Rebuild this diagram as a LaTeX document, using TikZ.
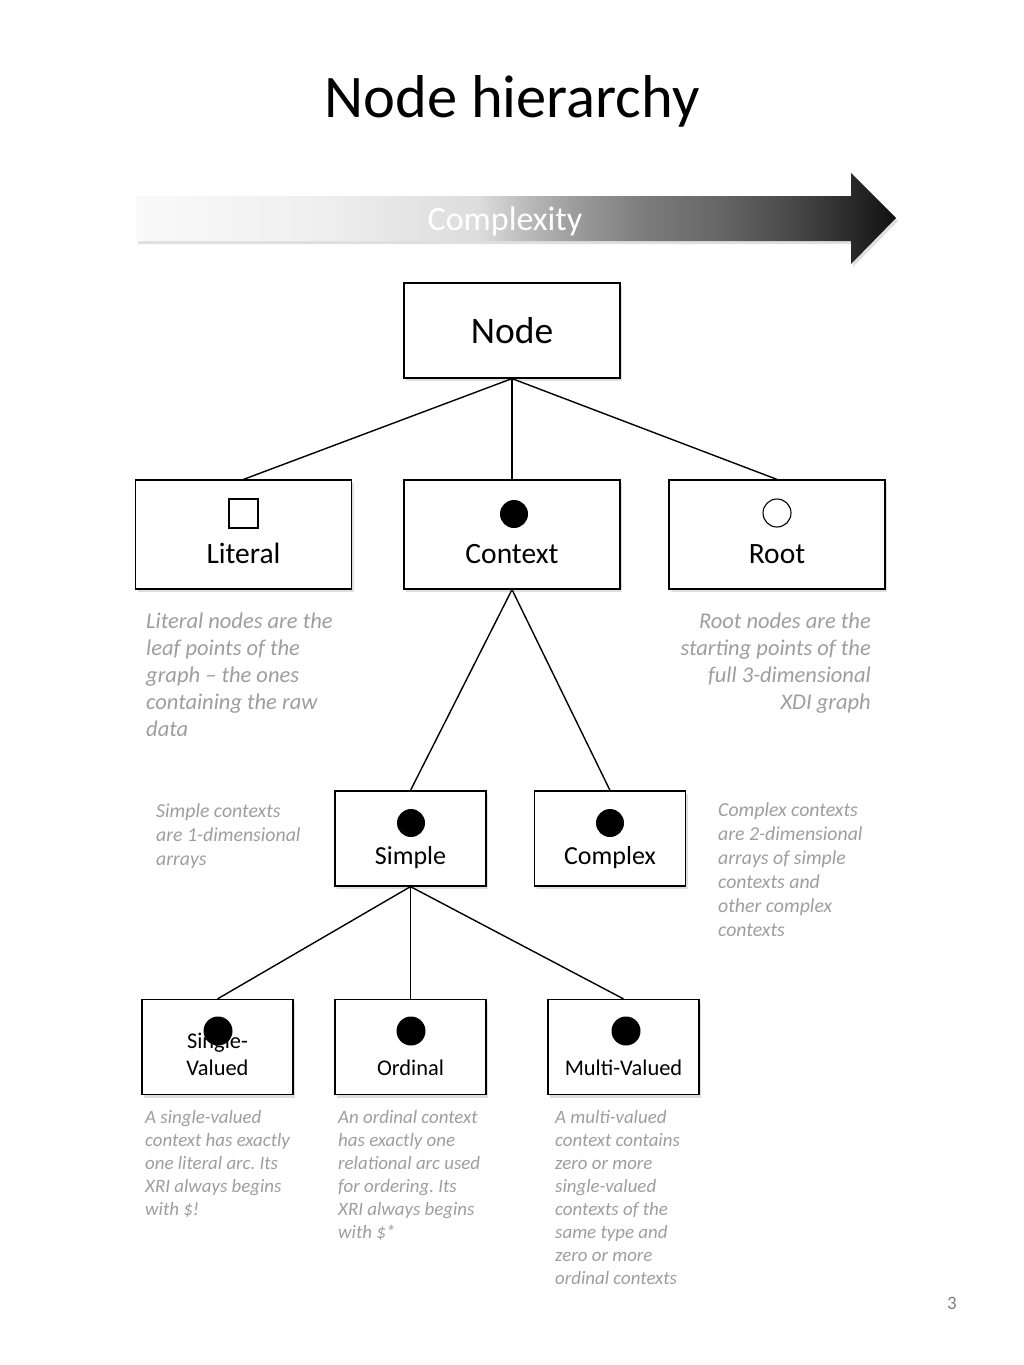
\documentclass[tikz,border=0pt]{standalone}
\usepackage{fontspec}
\setmainfont{Carlito}
\usetikzlibrary{shadows}
\frenchspacing
\definecolor{notegray}{RGB}{158,158,158}
\definecolor{pagegray}{RGB}{128,128,128}
\definecolor{sA}{HTML}{FAFAFA}
\definecolor{sB}{HTML}{EEEEEE}
\definecolor{sC}{HTML}{DCDCDC}
\definecolor{sD}{HTML}{B8B8B8}
\definecolor{sE}{HTML}{999999}
\definecolor{sF}{HTML}{7A7A7A}
\definecolor{sG}{HTML}{666666}
\definecolor{sH}{HTML}{4A4A4A}
\definecolor{sI}{HTML}{2A2A2A}
\definecolor{sJ}{HTML}{111111}
\pgfdeclarehorizontalshading{cplx}{100bp}{color(0bp)=(sA); color(25bp)=(sA); color(37.8bp)=(sB); color(47.6bp)=(sC); color(50.9bp)=(sD); color(54.2bp)=(sE); color(58.8bp)=(sF); color(63.4bp)=(sG); color(68bp)=(sH); color(72bp)=(sI); color(75bp)=(sJ); color(100bp)=(sJ)}
\newcommand{\fs}[2]{\fontsize{#1}{#2}\selectfont}
\begin{document}
\begin{tikzpicture}[x=1pt,y=-1pt,
  box/.style={draw=black, line width=1.2pt, fill=white, rectangle, inner sep=0pt,
    drop shadow={opacity=0.25, shadow xshift=2pt, shadow yshift=-3pt}},
  bigbox/.style={box, minimum width=216pt, minimum height=109pt},
  smallbox/.style={box, minimum width=151pt, minimum height=95pt},
  dot/.style={circle, fill=black, minimum size=28pt, inner sep=0pt},
  conn/.style={line width=1.4pt, black},
  lbl/.style={inner sep=0pt, anchor=base, text=black},
  note/.style={inner sep=0pt, text=notegray, align=left, anchor=north west},
  noteL/.style={note, font=\fs{22.5}{27}\itshape\frenchspacing},
  noteM/.style={note, font=\fs{19.8}{24}\itshape\frenchspacing},
  noteS/.style={note, font=\fs{18.9}{23}\itshape\frenchspacing},
]
\useasboundingbox (0,0) rectangle (1024,1365);
\fill[white] (0,0) rectangle (1024,1365);

% title
\node[lbl] (title) at (512,117) {\fs{60.5}{72}Node hierarchy};

% complexity arrow
\path[shading=cplx, drop shadow={opacity=0.25, shadow xshift=2pt, shadow yshift=-3pt}]
  (136,196) -- (851,196) -- (851,173) -- (896,218) -- (851,264) -- (851,241) -- (136,241) -- cycle;
\node[lbl, text=white] (cplxlbl) at (505,230) {\fs{34}{40}Complexity};

% boxes
\node[box, minimum width=216pt, minimum height=95pt] (node) at (512,330.5) {};
\node[bigbox] (lit) at (243.5,534.5) {};
\node[bigbox] (ctx) at (512,534.5) {};
\node[bigbox] (root) at (777,534.5) {};
\node[smallbox] (simple) at (410.5,838.5) {};
\node[smallbox] (complex) at (610,838.5) {};
\node[smallbox] (sv) at (217.5,1047) {};
\node[smallbox] (ord) at (410.5,1047) {};
\node[smallbox] (mv) at (623.5,1047) {};

% connectors
\draw[conn] (node.south) -- (lit.north);
\draw[conn] (node.south) -- (ctx.north);
\draw[conn] (node.south) -- (root.north);
\draw[conn] (ctx.south) -- (simple.north);
\draw[conn] (ctx.south) -- (complex.north);
\draw[conn] (simple.south) -- (sv.north);
\draw[conn] (simple.south) -- (ord.north);
\draw[conn] (simple.south) -- (mv.north);

% labels
\node[lbl] (nodelbl) at (512,343) {\fs{37.5}{44}Node};
\node[lbl] (litlbl) at (243.5,563) {\fs{29.5}{35}Literal};
\node[lbl] (ctxlbl) at (512,563) {\fs{29.5}{35}Context};
\node[lbl] (rootlbl) at (777,563) {\fs{29.5}{35}Root};
\node[lbl] (simplelbl) at (410.5,864) {\fs{26}{31}Simple};
\node[lbl] (complexlbl) at (610,864) {\fs{26}{31}Complex};
\node[lbl] (svlbl1) at (217.5,1048) {\fs{22.4}{27}Single-};
\node[lbl] (svlbl2) at (217.5,1075) {\fs{22.4}{27}Valued};
\node[lbl] (ordlbl) at (410.5,1075) {\fs{22.4}{27}Ordinal};
\node[lbl] (mvlbl) at (623.5,1075) {\fs{22.4}{27}Multi-Valued};

% icons
\node[draw=black, line width=1.2pt, rectangle, minimum size=29pt, inner sep=0pt] (litico) at (243.5,513.5) {};
\node[dot] (ctxico) at (514,514) {};
\node[draw=black, line width=1.1pt, circle, minimum size=28pt, inner sep=0pt] (rootico) at (777,513) {};
\node[dot] (simpleico) at (411,823) {};
\node[dot] (complexico) at (610,823) {};
\node[dot, minimum size=29pt] (svico) at (218,1031) {};
\node[dot, minimum size=29pt] (ordico) at (411,1031) {};
\node[dot, minimum size=29pt] (mvico) at (626,1031) {};

% notes
\node[noteL] (litnote) at (146,613) {Literal nodes are the\\leaf points of the\\graph – the ones\\containing the raw\\data};
\node[noteL, align=right, anchor=north east] (rootnote) at (871,613) {Root nodes are the\\starting points of the\\full 3-dimensional\\XDI graph};
\node[noteM] (simplenote) at (156,804) {Simple contexts\\are 1-dimensional\\arrays};
\node[noteM] (complexnote) at (718,803) {Complex contexts\\are 2-dimensional\\arrays of simple\\contexts and\\other complex\\contexts};
\node[noteS] (svnote) at (145,1110) {A single-valued\\context has exactly\\one literal arc. Its\\XRI always begins\\with \$!};
\node[noteS] (ordnote) at (338,1110) {An ordinal context\\has exactly one\\relational arc used\\for ordering. Its\\XRI always begins\\with \$*};
\node[noteS] (mvnote) at (555,1110) {A multi-valued\\context contains\\zero or more\\single-valued\\contexts of the\\same type and\\zero or more\\ordinal contexts};

% page number
\node[lbl, text=pagegray] (pagenum) at (952,1309) {\fs{19}{22}3};
\end{tikzpicture}
\end{document}
